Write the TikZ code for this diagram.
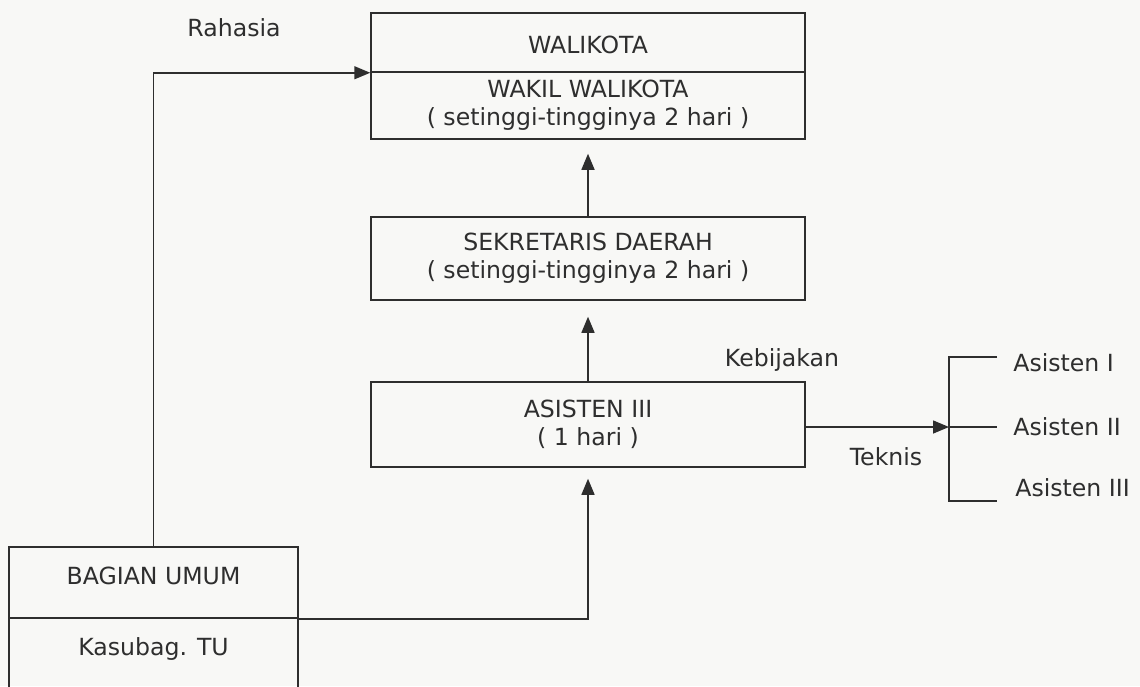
\documentclass[tikz,border=0pt]{standalone}
\usepackage{fontspec}
\setmainfont{DejaVu Sans}
\usepackage{xcolor}
\usepackage{tikz}
\usetikzlibrary{arrows.meta}
\definecolor{inkx}{HTML}{2E2E2E}
\definecolor{paperx}{HTML}{F8F8F6}
\tikzset{
  box/.style={draw=inkx,line width=0.75pt,align=center,inner sep=0pt,text=inkx},
  ar/.style={-{Triangle[length=8pt,width=6.5pt]},line width=0.75pt,inkx},
  ln/.style={line width=0.75pt,inkx},
  lbl/.style={text=inkx,inner sep=0pt}
}

\begin{document}
\begin{tikzpicture}[x=0.5pt,y=-0.5pt,font=\fontsize{11.8}{14}\selectfont]
\clip (0,0) rectangle (1140,686);
\fill[paperx] (0,0) rectangle (1140,686);
% kolom tengah
\node[box,minimum width=217pt,minimum height=29.5pt,text height=11pt] (walikota) at (588,42.5) {WALIKOTA};
\node[box,minimum width=217pt,minimum height=33.5pt] (wakil) at (588,105.5) {WAKIL WALIKOTA\\( setinggi-tingginya 2 hari )};
\node[box,minimum width=217pt,minimum height=41.5pt] (sekda) at (588,258.5) {SEKRETARIS DAERAH\\( setinggi-tingginya 2 hari )};
\node[box,minimum width=217pt,minimum height=42.5pt] (asisten) at (588,424.5) {ASISTEN III\\( 1 hari )};
% bagian umum
\node[box,minimum width=144.5pt,minimum height=35.5pt,text depth=7pt] (bagian) at (153.5,582.5) {BAGIAN UMUM};
\node[box,minimum width=144.5pt,minimum height=35pt,text depth=6pt] (kasubag) at (153.5,653) {Kasubag. TU};
% cabang asisten
\coordinate (bt) at (949,357);
\coordinate (bm) at (949,427);
\coordinate (bb) at (949,501);
\coordinate (et) at (997,357);
\coordinate (em) at (997,427);
\coordinate (eb) at (997,501);
\node[lbl,anchor=west] (as1) at (1013,363) {Asisten I};
\node[lbl,anchor=west] (as2) at (1013,427) {Asisten II};
\node[lbl,anchor=west] (as3) at (1015,488) {Asisten III};
\draw[ln] (et) -- (bt) -- (bb) -- (eb);
\draw[ln] (bm) -- (em);
% panah
\draw[ar,shorten >=7pt] (sekda) -- (wakil);
\draw[ar,shorten >=8pt] (asisten) -- (sekda);
\draw[ar] (bagian.north) |- (walikota.south west);
\draw[ar,shorten >=5.5pt] (bagian.south east) -| (asisten.south);
\draw[ar] (asisten.east |- bm) -- (bm);
% keterangan
\node[lbl] (rahasia) at (234,28) {Rahasia};
\node[lbl] (kebijakan) at (782,360) {Kebijakan};
\node[lbl] (teknis) at (886,457) {Teknis};
\end{tikzpicture}
\end{document}
